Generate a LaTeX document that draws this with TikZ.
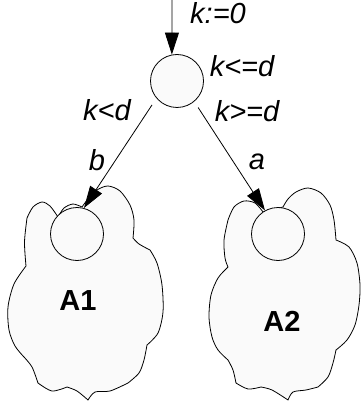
\documentclass[tikz,border=0pt]{standalone}
\usepackage{fontspec}
\setmainfont{Liberation Sans}
\usetikzlibrary{arrows.meta}
\begin{document}
\begin{tikzpicture}[x=1pt,y=-1pt]
	\tikzstyle{state node} = [circle, draw, fill=black!2, minimum size=53pt, inner sep=0pt, line width=0.8pt]
	\tikzstyle{cloud line} = [draw, fill=black!2, line width=0.8pt]
	\tikzstyle{edge line} = [line width=0.8pt, -{Triangle[length=22pt,width=14pt]}]
	\tikzstyle{cond text} = [inner sep=0pt, font=\fontsize{29}{29}\selectfont\itshape]
	\tikzstyle{block text} = [inner sep=0pt, font=\fontsize{29}{29}\selectfont\bfseries]

	\useasboundingbox (0,0) rectangle (362,403);

	% left cloud
	\draw[cloud line] plot[smooth] coordinates {(58,217) (50,206) (42,202) (33,207) (27,218)}
		-- plot[smooth] coordinates {(27,218) (24.5,242) (26,266)}
		-- plot[smooth] coordinates {(26,266) (14,284) (8,307) (9,330) (15,346) (24,357)}
		-- plot[smooth] coordinates {(24,357) (32,367) (38,383)}
		-- plot[smooth] coordinates {(38,383) (52,391) (67,387)}
		-- plot[smooth] coordinates {(67,387) (77,391) (88,400)}
		-- plot[smooth] coordinates {(88,400) (95,392) (110,391) (128,383)}
		-- plot[smooth] coordinates {(128,383) (139,373) (144,360) (147,345)}
		-- plot[smooth] coordinates {(147,345) (158,333) (163,312) (162,285) (157,263) (150,250)}
		-- plot[smooth] coordinates {(150,250) (139,244) (133,238)}
		-- plot[smooth] coordinates {(133,238) (134,220) (130,205) (120,191) (108,186) (97,190) (88,199) (82,207)}
		-- plot[smooth] coordinates {(82,207) (73,204) (64,208) (58,217)} -- cycle;

	% right cloud
	\draw[cloud line] plot[smooth] coordinates {(263,212) (255,203) (244,201) (234,207) (228,220)}
		-- plot[smooth] coordinates {(228,220) (224,240) (225,258) (228,267)}
		-- plot[smooth] coordinates {(228,267) (218,278) (211,295) (209,317) (212,337) (218,350) (228,360)}
		-- plot[smooth] coordinates {(228,360) (233,370) (236,383)}
		-- plot[smooth] coordinates {(236,383) (248,389) (261,387)}
		-- plot[smooth] coordinates {(261,387) (272,390) (288,400)}
		-- plot[smooth] coordinates {(288,400) (293,392) (306,390) (318,387)}
		-- plot[smooth] coordinates {(318,387) (328,377) (333,363) (336,350)}
		-- plot[smooth] coordinates {(336,350) (347,340) (355,325) (359,305) (360,285) (357,263) (349,247) (336,240)}
		-- plot[smooth] coordinates {(336,240) (334,220) (330,205) (321,193) (308,188) (296,192) (288,199) (283,207)} -- cycle;

	\node[state node] (root) at (177,81) {};
	\node[state node] (left) at (77,234) {};
	\node[state node] (right) at (278,234) {};
	\coordinate (start) at (172,0);

	\draw[edge line] (start) -- (root.101);
	\draw[edge line, shorten <=8pt] (root.220) -- (left.75);
	\draw[edge line, shorten <=7pt] (root.310) -- (right.119);

	\node[cond text] (init) at (218,13) {k:=0};
	\node[cond text] (loop) at (242,66) {k<=d};
	\node[cond text] (less) at (107,110) {k<d};
	\node[cond text] (more) at (247,111) {k>=d};
	\node[cond text] (lb) at (97,160) {b};
	\node[cond text] (la) at (257,162) {a};
	\node[block text] (a1) at (78,301) {A1};
	\node[block text] (a2) at (282,321) {A2};
\end{tikzpicture}
\end{document}
